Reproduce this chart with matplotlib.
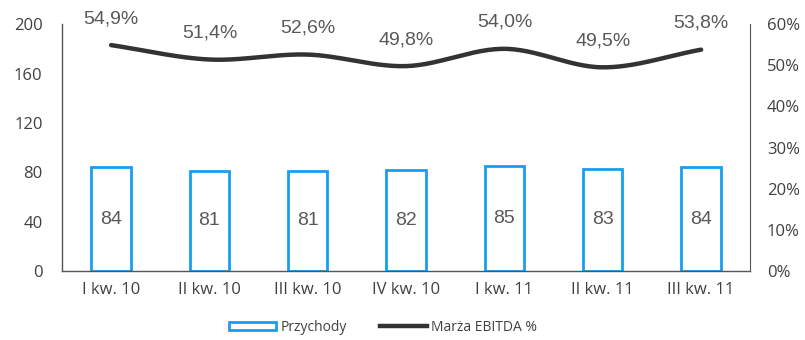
import numpy as np
import matplotlib

matplotlib.use("Agg")
import matplotlib.pyplot as plt
from matplotlib.patches import Patch
from matplotlib.lines import Line2D

plt.rcParams["font.family"] = ["Open Sans", "DejaVu Sans"]

QUARTERS = ["I kw. 10", "II kw. 10", "III kw. 10", "IV kw. 10", "I kw. 11", "II kw. 11", "III kw. 11"]
REVENUE = [84, 81, 81, 82, 85, 83, 84]
EBITDA_MARGIN = [54.9, 51.4, 52.6, 49.8, 54.0, 49.5, 53.8]

BLUE, DARK, TXT, LBL = "#169ff0", "#333333", "#404040", "#595959"


def smooth(x, y, n=30):
    # Catmull-Rom through the data points
    x = np.asarray(x, float)
    y = np.asarray(y, float)
    px = np.concatenate([[2 * x[0] - x[1]], x, [2 * x[-1] - x[-2]]])
    py = np.concatenate([[2 * y[0] - y[1]], y, [2 * y[-1] - y[-2]]])
    xs, ys = [], []
    t = np.linspace(0, 1, n)
    for i in range(1, len(px) - 2):
        p0, p1, p2, p3 = (np.array([px[j], py[j]]) for j in (i - 1, i, i + 1, i + 2))
        m1 = (p2 - p0) / 2
        m2 = (p3 - p1) / 2
        h00 = 2 * t**3 - 3 * t**2 + 1
        h10 = t**3 - 2 * t**2 + t
        h01 = -2 * t**3 + 3 * t**2
        h11 = t**3 - t**2
        pts = np.outer(h00, p1) + np.outer(h10, m1) + np.outer(h01, p2) + np.outer(h11, m2)
        xs.extend(pts[:, 0])
        ys.extend(pts[:, 1])
    return np.array(xs), np.array(ys)


fig = plt.figure(figsize=(8.05, 3.4), dpi=100)
ax = fig.add_axes([0.077, 0.203, 0.855, 0.726])
x = np.arange(len(QUARTERS))

ax.bar(x, REVENUE, width=0.4, facecolor="white", edgecolor=BLUE, linewidth=2, zorder=2)
for xi, v in zip(x, REVENUE):
    ax.text(xi, v / 2, f"{v}", ha="center", va="center", fontsize=14,
            family="Liberation Sans", color=LBL, zorder=3)

ax.set_xlim(-0.5, len(QUARTERS) - 0.5)
ax.set_ylim(0, 200)
ax.set_yticks(range(0, 201, 40))
ax.set_xticks(x)
ax.set_xticklabels(QUARTERS)
ax.tick_params(length=0, labelsize=12, colors=TXT, pad=8)
ax.tick_params(axis="y", pad=14)
ax.spines["top"].set_visible(False)
ax.spines["right"].set_visible(False)
for s in ("left", "bottom"):
    ax.spines[s].set_color("#555555")
    ax.spines[s].set_linewidth(1)

ax2 = ax.twinx()
ax2.set_ylim(0, 60)
ax2.set_yticks(range(0, 61, 10))
ax2.set_yticklabels([f"{v}%" for v in range(0, 61, 10)])
ax2.tick_params(length=0, labelsize=12, colors=TXT, pad=12)
ax2.spines["top"].set_visible(False)
ax2.spines["left"].set_visible(False)
ax2.spines["bottom"].set_visible(False)
ax2.spines["right"].set_color("#555555")

sx, sy = smooth(x, EBITDA_MARGIN)
ax2.plot(sx, sy, color=DARK, lw=3.2, solid_capstyle="round", zorder=3)
for xi, v in zip(x, EBITDA_MARGIN):
    ax2.annotate(f"{v:.1f}%".replace(".", ","), (xi, v), xytext=(0, 19),
                 textcoords="offset points", ha="center", va="center",
                 fontsize=14, family="Liberation Sans", color=LBL,
                 annotation_clip=False)

handles = [
    Patch(facecolor="white", edgecolor=BLUE, linewidth=2, label="Przychody"),
    Line2D([0], [0], color=DARK, lw=3.2, label="Marża EBITDA %"),
]
fig.legend(handles=handles, loc="center", bbox_to_anchor=(0.476, 0.037), ncol=2,
           frameon=False, fontsize=10, handlelength=3.4, handleheight=0.55,
           columnspacing=2.4, handletextpad=0.3, labelcolor=TXT)

fig.savefig("out.png", dpi=100)
